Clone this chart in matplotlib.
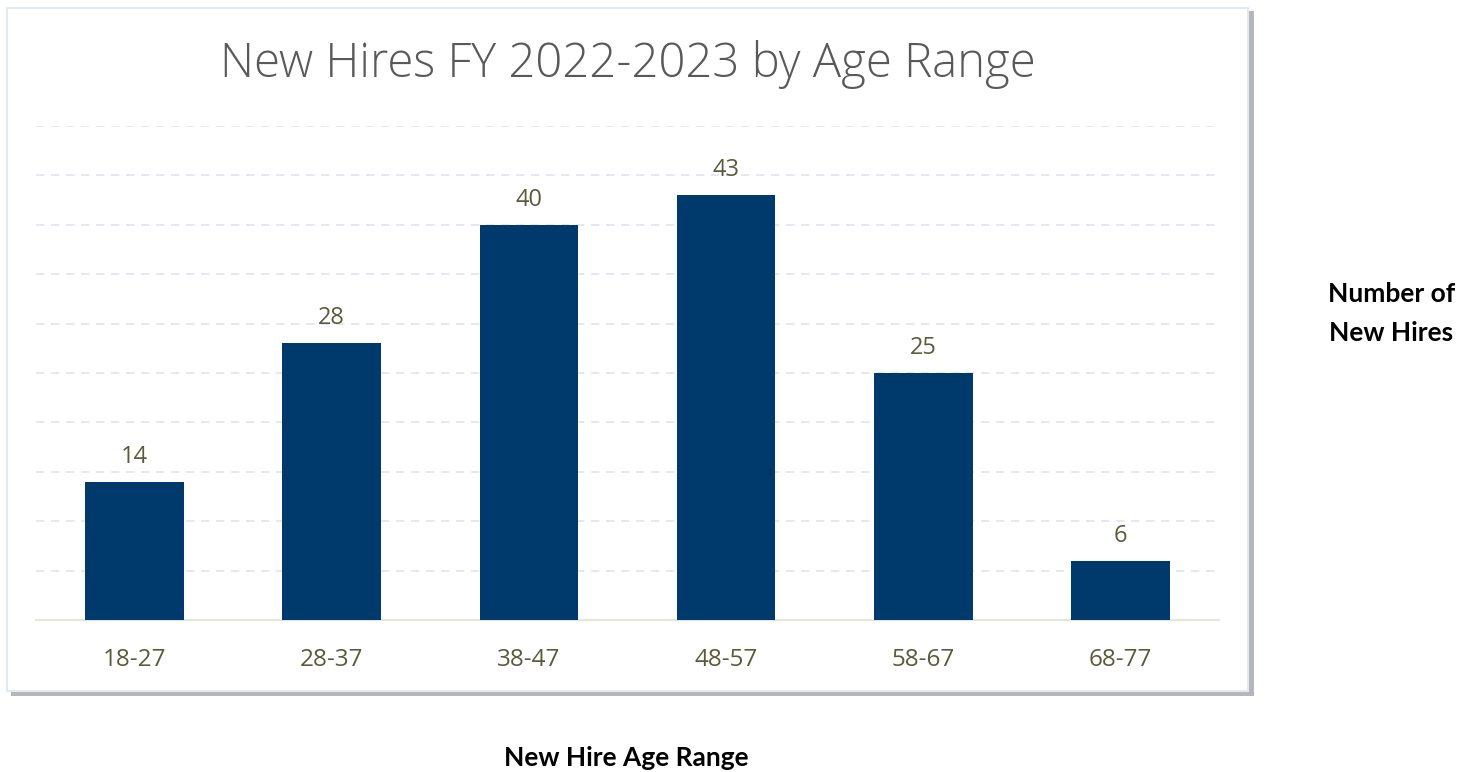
import matplotlib
matplotlib.use("Agg")
import matplotlib.pyplot as plt
from matplotlib.patches import Rectangle

# datos
rangos = ["18-27", "28-37", "38-47", "48-57", "58-67", "68-77"]
contrataciones = [14, 28, 40, 43, 25, 6]

titulo = "New Hires FY 2022-2023 by Age Range"
eje_x = "New Hire Age Range"
eje_y = "Number of\nNew Hires"

azul = "#003a6c"
texto_oliva = "#5a5a3c"

fig = plt.figure(figsize=(14.74, 7.72), dpi=100)
fig.patch.set_facecolor("white")

# panel con sombra
sombra = Rectangle((0.0075, 0.098), 0.8435, 0.888, transform=fig.transFigure,
                   facecolor="#b4b6ba", edgecolor="none", zorder=0)
panel = Rectangle((0.005, 0.105), 0.842, 0.885, transform=fig.transFigure,
                  facecolor="white", edgecolor="#e3e8f2", linewidth=1.5, zorder=1)
fig.patches.extend([sombra, panel])

ax = fig.add_axes([0.0244, 0.1969, 0.8026, 0.64])
ax.set_zorder(2)
ax.patch.set_alpha(0)

x = list(range(len(rangos)))
barras = ax.bar(x, contrataciones, width=0.5, color=azul, zorder=3)
for b, v in zip(barras, contrataciones):
    ax.text(b.get_x() + b.get_width() / 2, v + 1.3, str(v), ha="center", va="bottom",
            fontsize=17, color=texto_oliva, family="Open Sans")

ax.set_xlim(-0.5, len(rangos) - 0.5)
ax.set_ylim(0, 50)
ax.set_yticks(range(5, 51, 5))
ax.yaxis.grid(True, color="#dfe5ee", linestyle=(0, (5, 4)), linewidth=1.2)
ax.set_axisbelow(True)
ax.tick_params(left=False, labelleft=False, bottom=False)
ax.set_xticks(x)
ax.set_xticklabels(rangos, fontsize=17.5, color=texto_oliva, family="Open Sans")
ax.tick_params(axis="x", pad=17)
for s in ["top", "right", "left"]:
    ax.spines[s].set_visible(False)
ax.spines["bottom"].set_color("#e4e7d6")
ax.spines["bottom"].set_linewidth(1.5)

# titulos
fig.text(0.426, 0.917, titulo, ha="center", va="center", fontsize=34,
         color="#595959", family="Open Sans", fontweight="light")
fig.text(0.425, 0.003, eje_x, ha="center", va="bottom", fontsize=19,
         fontweight="bold", color="black", family="Lato")
fig.text(0.944, 0.594, eje_y, ha="center", va="center", fontsize=19,
         fontweight="bold", color="black", family="Lato", linespacing=1.75)

fig.savefig("out.png", dpi=100, facecolor="white")
